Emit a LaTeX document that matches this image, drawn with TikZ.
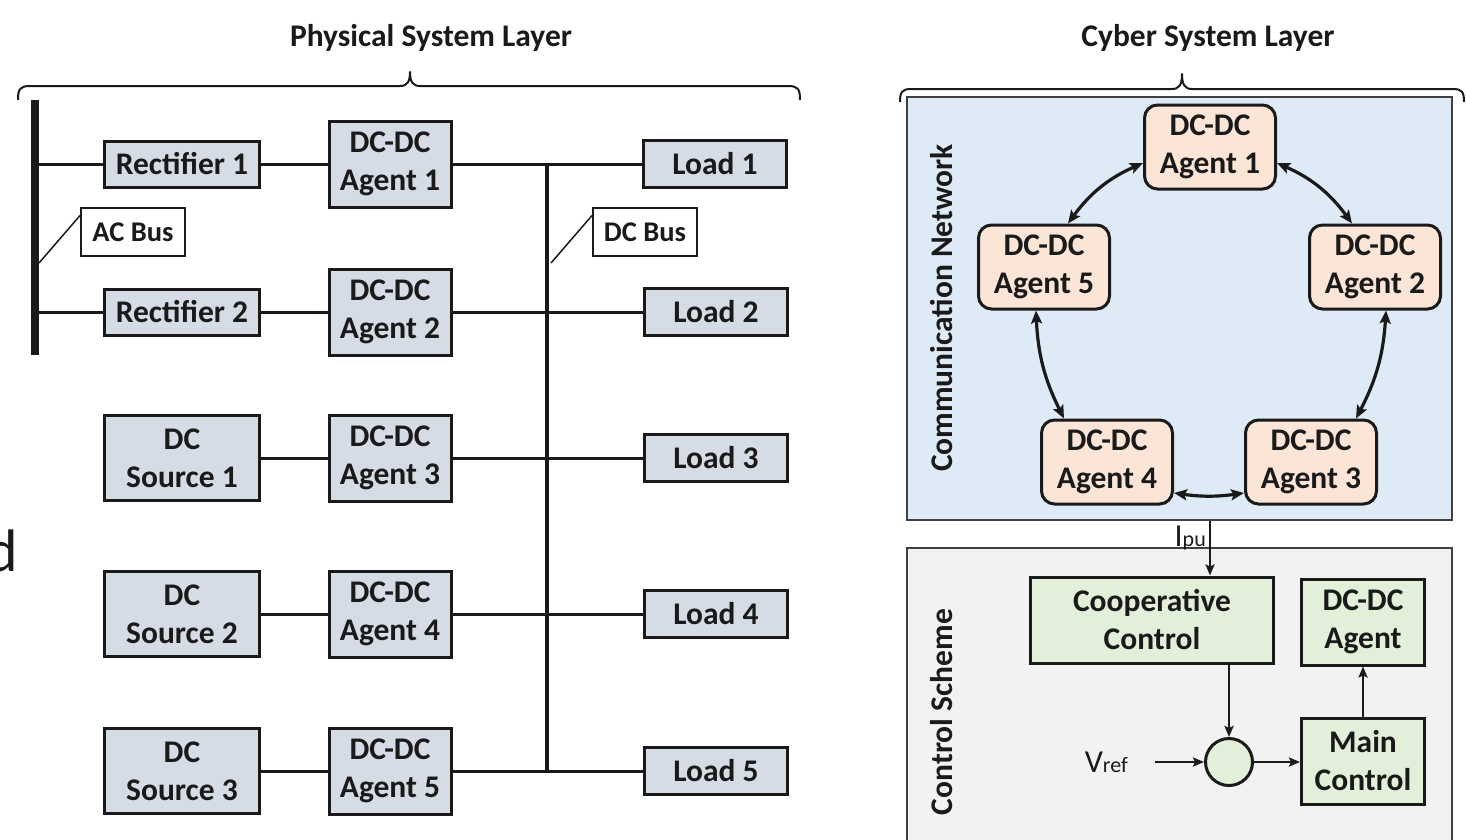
\documentclass[tikz,border=0pt]{standalone}
\usepackage{fontspec}
\setmainfont{Carlito}
\usetikzlibrary{arrows.meta}

\definecolor{physfill}{HTML}{D6DCE5}
\definecolor{netfill}{HTML}{DEEBF7}
\definecolor{agentfill}{HTML}{FBE5D6}
\definecolor{ctrlfill}{HTML}{E2F0D9}
\definecolor{schemefill}{HTML}{F2F2F2}
\definecolor{ink}{HTML}{1A1A1A}
\definecolor{frame}{HTML}{404040}

\begin{document}
\begin{tikzpicture}[x=1pt,y=-1pt,
  every node/.style={font=\fontsize{31.5}{38}\selectfont\bfseries, inner sep=0pt, align=center, text=ink},
  box/.style={draw=ink, line width=3pt},
  rectbox/.style={box, fill=physfill, minimum width=155pt, minimum height=46pt},
  srcbox/.style={box, fill=physfill, minimum width=155pt, minimum height=85pt},
  agbox/.style={box, fill=physfill, minimum width=122pt, minimum height=86pt},
  loadbox/.style={box, fill=physfill, minimum width=143pt, minimum height=47pt},
  tagbox/.style={draw=ink, line width=1.5pt, fill=white, minimum width=104pt, minimum height=48pt, font=\fontsize{28.5}{30}\selectfont\bfseries},
  netagent/.style={box, fill=agentfill, rounded corners=13pt, minimum width=131pt, minimum height=84pt},
  ctrlbox/.style={box, fill=ctrlfill, minimum height=86pt},
  panel/.style={draw=frame, line width=2pt, anchor=north west, minimum width=545pt},
  wire/.style={draw=ink, line width=3pt},
  leader/.style={draw=ink, line width=1.5pt},
  layerbrace/.style={draw=ink, line width=2pt, line join=round},
  link/.style={draw=ink, line width=3.2pt, {Stealth[length=13pt,width=11pt,inset=2.5pt]}-{Stealth[length=13pt,width=11pt,inset=2.5pt]}},
  sig/.style={draw=ink, line width=2.5pt, -{Stealth[length=11pt,width=9pt,inset=2pt]}},
  plain/.style={font=\fontsize{32}{34}\selectfont\mdseries},
  sidelabel/.style={rotate=90, font=\fontsize{31.5}{34}\selectfont\bfseries}
]
\useasboundingbox (0,0) rectangle (1466,839);

% ---------------- physical system layer ----------------
\node (phystitle) at (431,38) {Physical System Layer};
\draw[layerbrace] (18,100) .. controls (18,89) and (20,86) .. (30,86)
  -- (400,86) .. controls (407,86) and (410,82) .. (410,72)
  .. controls (410,82) and (413,86) .. (420,86)
  -- (788,86) .. controls (798,86) and (800,89) .. (800,100);

% AC bus bar and DC bus bar
\coordinate (acT) at (35,100);
\coordinate (acB) at (35,355);
\draw[draw=ink, line width=8pt] (acT) -- (acB);
\coordinate (dcT) at (547,164);
\coordinate (dcB) at (547,771);
\draw[draw=ink, line width=4pt] (dcT) -- (dcB);

% sources
\node[rectbox] (rect1) at (182,164) {Rectifier 1};
\node[rectbox] (rect2) at (182,312) {Rectifier 2};
\node[srcbox] (src1) at (182,458) {DC\\Source 1};
\node[srcbox] (src2) at (182,614) {DC\\Source 2};
\node[srcbox] (src3) at (182,771) {DC\\Source 3};

% converters
\node[agbox] (ag1) at (390,164) {DC-DC\\Agent 1};
\node[agbox] (ag2) at (390,312) {DC-DC\\Agent 2};
\node[agbox] (ag3) at (390,458) {DC-DC\\Agent 3};
\node[agbox] (ag4) at (390,614) {DC-DC\\Agent 4};
\node[agbox] (ag5) at (390,771) {DC-DC\\Agent 5};

% loads
\node[loadbox] (load1) at (715,164) {Load 1};
\node[loadbox] (load2) at (716,312) {Load 2};
\node[loadbox] (load3) at (716,458) {Load 3};
\node[loadbox] (load4) at (716,614) {Load 4};
\node[loadbox] (load5) at (716,771) {Load 5};

% wiring
\draw[wire] (acT |- rect1.west) -- (rect1.west);
\draw[wire] (acT |- rect2.west) -- (rect2.west);
\draw[wire] (rect1.east) -- (ag1.west);
\draw[wire] (rect2.east) -- (ag2.west);
\draw[wire] (src1.east) -- (ag3.west);
\draw[wire] (src2.east) -- (ag4.west);
\draw[wire] (src3.east) -- (ag5.west);
\draw[wire] (ag1.east) -- (load1.west);
\draw[wire] (ag2.east) -- (load2.west);
\draw[wire] (ag3.east) -- (load3.west);
\draw[wire] (ag4.east) -- (load4.west);
\draw[wire] (ag5.east) -- (load5.west);

% bus tags
\node[tagbox] (aclbl) at (133,232) {AC Bus};
\coordinate (acTap) at (39,263);
\draw[leader] ([yshift=-8pt]aclbl.north west) -- (acTap);
\node[tagbox] (dclbl) at (645,232) {DC Bus};
\coordinate (dcTap) at (551,263);
\draw[leader] ([yshift=-8pt]dclbl.north west) -- (dcTap);

% stray glyph at the left edge
\node[font=\fontsize{60}{60}\selectfont\mdseries, anchor=base east] (stray) at (18,571) {d};

% ---------------- cyber system layer ----------------
\node (cybtitle) at (1208,38) {Cyber System Layer};

\node[panel, fill=netfill, minimum height=423pt] (net) at (906,96) {};
\node[panel, fill=schemefill, minimum height=296pt] (scheme) at (906,547) {};

\draw[layerbrace] (900,102) .. controls (900,92) and (902,89) .. (911,89)
  -- (1172,89) .. controls (1179,89) and (1182,85) .. (1182,74)
  .. controls (1182,85) and (1185,89) .. (1192,89)
  -- (1453,89) .. controls (1462,89) and (1464,92) .. (1464,102);

\node[sidelabel] (netlbl) at (942,308) {Communication Network};
\node[sidelabel] (schemelbl) at (942,712) {Control Scheme};

% agents of the communication ring
\node[netagent] (a1) at (1210,147) {DC-DC\\Agent 1};
\node[netagent] (a5) at (1044,267) {DC-DC\\Agent 5};
\node[netagent] (a2) at (1375,267) {DC-DC\\Agent 2};
\node[netagent] (a4) at (1107,462) {DC-DC\\Agent 4};
\node[netagent] (a3) at (1311,462) {DC-DC\\Agent 3};

\draw[link] ([yshift=-16pt]a1.west) to[bend right=15] ([xshift=24pt]a5.north);
\draw[link] ([yshift=-16pt]a1.east) to[bend left=15] ([xshift=-23pt]a2.north);
\draw[link] ([xshift=-8pt]a5.south) to[bend right=12] ([xshift=-43pt]a4.north);
\draw[link] ([xshift=11pt]a2.south) to[bend left=12] ([xshift=45pt]a3.north);
\draw[link] ([yshift=-31pt]a4.east) to[bend right=8] ([yshift=-31pt]a3.west);

% control scheme
\node[ctrlbox, minimum width=243pt] (coop) at (1152,620) {Cooperative\\Control};
\node[ctrlbox, minimum width=123pt] (dca) at (1363,622) {DC-DC\\Agent};
\node[ctrlbox, minimum width=123pt] (mainc) at (1363,761) {Main\\Control};
\node[box, fill=ctrlfill, circle, minimum size=47pt] (sum) at (1229,762) {};

\draw[sig] ([xshift=58pt]coop.north |- net.south) -- ([xshift=58pt]coop.north);
\node[plain, anchor=base east] (ipu) at (1206,546) {I{\fontsize{22}{24}\selectfont pu}};

\node[plain, anchor=base east] (vref) at (1128,772) {V{\fontsize{22}{24}\selectfont ref}};
\draw[sig] ([xshift=27pt]vref.east |- sum.west) -- (sum.west);
\draw[sig] (coop.south -| sum.north) -- (sum.north);
\draw[sig] (sum.east) -- (mainc.west |- sum.east);
\draw[sig] (mainc.north) -- (dca.south);
\end{tikzpicture}
\end{document}
